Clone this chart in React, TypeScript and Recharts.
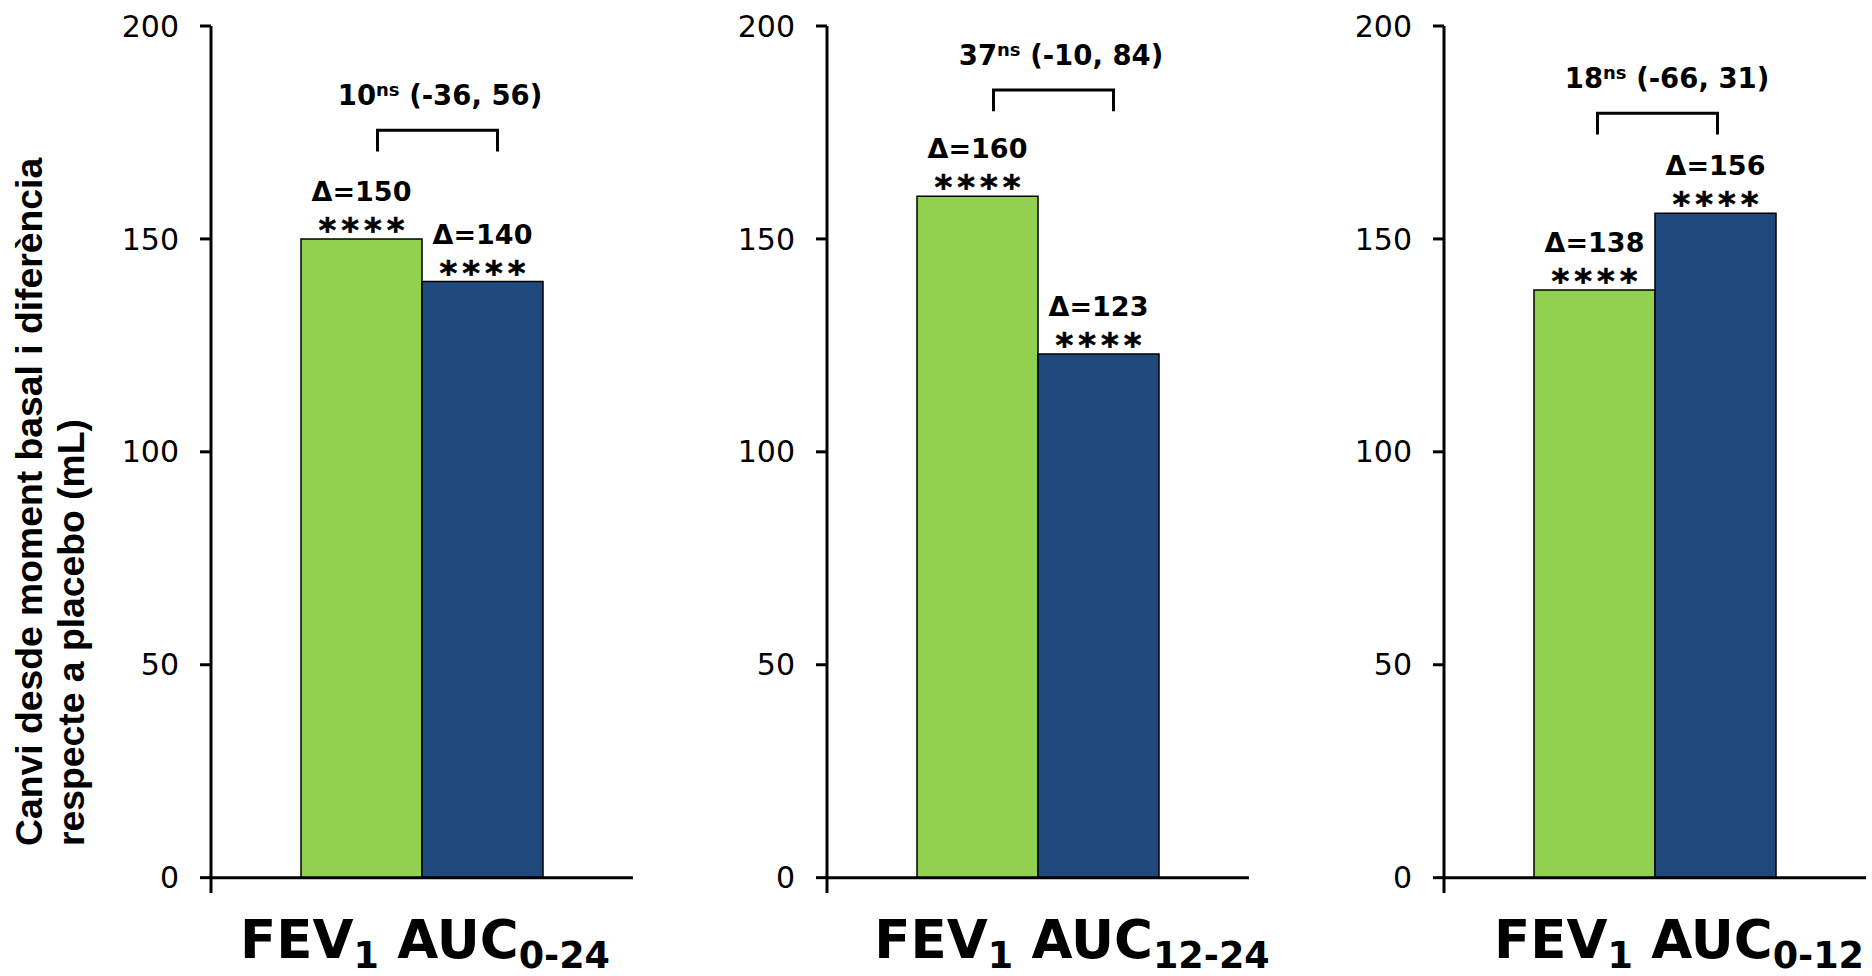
import React from 'react';
import { BarChart, Bar, XAxis, YAxis, ReferenceLine } from 'recharts';

// ---- data ----
const panelMain = ['FEV', 'FEV', 'FEV'];
const panelSub1 = ['1', '1', '1'];
const panelMid = [' AUC', ' AUC', ' AUC'];
const panelSubs = ['0-24', '12-24', '0-12'];
const greenValues = [150, 160, 138];
const blueValues = [140, 123, 156];
const diffValues = [10, 37, 18];
const ciLower = [-36, -10, -66];
const ciUpper = [56, 84, 31];
const bracketLevels = [175.5, 185, 179.5];
const starLabel = '****';
const diffMark = 'ns';
const yTicks = [0, 50, 100, 150, 200];
const yTitleLines = ['Canvi desde moment basal i diferència', 'respecte a placebo (mL)'];

// ---- layout ----
const chartLefts = [0, 616, 1232.5];
const bracketShift = [16, 16, 3];
const diffTextShift = [2.5, 7.5, 9.5];
const xLabelShift = [3, 34, 24];
const AXIS_W = 211;
const PLOT_W = 422;
const RIGHT_PAD = 90;
const CHART_W = AXIS_W + PLOT_W + RIGHT_PAD;
const CHART_H = 976;
const GREEN = '#92D050';
const BLUE = '#1F497D';
const SANS = '"DejaVu Sans", Verdana, sans-serif';
const ARIAL = '"Liberation Sans", Arial, sans-serif';

const num = (v: any) => Number(v);

function makeBarLabel(panel: number, isGreen: boolean) {
  return (props: any) => {
    const x = num(props.x), y = num(props.y), w = num(props.width), h = num(props.height);
    const value = num(props.value);
    const cx = x + w / 2;
    const ppu = h / value;
    const bottom = y + h;
    const out: any[] = [
      <text key="d" x={cx} y={y - 38} textAnchor="middle" fontFamily={SANS} fontWeight="bold" fontSize={27} fill="#000">
        {'Δ=' + value}
      </text>,
      <text key="s" x={cx + 2.5} y={y + 3} textAnchor="middle" fontFamily={SANS} fontWeight="bold" fontSize={34} letterSpacing={5} fill="#000" stroke="#000" strokeWidth={0.6}>
        {starLabel}
      </text>,
    ];
    if (isGreen) {
      const by = bottom - bracketLevels[panel] * ppu;
      const legY = bottom - (bracketLevels[panel] - 5) * ppu;
      const left = cx + bracketShift[panel];
      const right = left + w - 1;
      out.push(
        <path key="b" d={`M${left},${legY} L${left},${by} L${right},${by} L${right},${legY}`} fill="none" stroke="#000" strokeWidth={3} />
      );
      out.push(
        <text key="t" x={(left + right) / 2 + diffTextShift[panel]} y={by - 25} textAnchor="middle" fontFamily={SANS} fontWeight="bold" fontSize={27.5} fill="#000">
          <tspan>{String(diffValues[panel])}</tspan>
          <tspan fontSize={18} dy={-9}>{diffMark}</tspan>
          <tspan dy={9}>{` (${ciLower[panel]}, ${ciUpper[panel]})`}</tspan>
        </text>
      );
    }
    return <g>{out}</g>;
  };
}

function makeXTick(panel: number) {
  return (props: any) => {
    const x = num(props.x), y = num(props.y);
    return (
      <text x={x + xLabelShift[panel]} y={y + 65} textAnchor="middle" fontFamily={SANS} fontWeight="bold" fontSize={53} fill="#000">
        <tspan>{panelMain[panel]}</tspan>
        <tspan fontSize={36.5} dy={10}>{panelSub1[panel]}</tspan>
        <tspan dy={-10}>{panelMid[panel]}</tspan>
        <tspan fontSize={36.5} dy={10}>{panelSubs[panel]}</tspan>
      </text>
    );
  };
}

const YTitle = () => (
  <g>
    <text transform="rotate(-90 42 846)" x={42} y={846} textAnchor="start" fontFamily={ARIAL} fontWeight="bold" fontSize={37.3} fill="#000">
      {yTitleLines[0]}
    </text>
    <text transform="rotate(-90 84 846)" x={84} y={846} textAnchor="start" fontFamily={ARIAL} fontWeight="bold" fontSize={37.3} fill="#000">
      {yTitleLines[1]}
    </text>
  </g>
);

function Panel({ i }: { i: number }) {
  const data = [{ name: panelMain[i] + panelSub1[i] + panelMid[i] + panelSubs[i], green: greenValues[i], blue: blueValues[i] }];
  return (
    <div style={{ position: 'absolute', left: chartLefts[i], top: 0 }}>
      <BarChart
        width={CHART_W}
        height={CHART_H}
        data={data}
        margin={{ top: 26, right: RIGHT_PAD, bottom: 0, left: 0 }}
        barCategoryGap={90}
        barGap={0}
      >
        <XAxis
          dataKey="name"
          height={83}
          axisLine={false}
          tickLine={false}
          tickSize={0}
          tickMargin={0}
          tick={makeXTick(i)}
          interval={0}
        />
        <YAxis
          width={AXIS_W}
          domain={[-3.6, 200]}
          ticks={yTicks}
          allowDataOverflow
          axisLine={{ stroke: '#000', strokeWidth: 3 }}
          tickLine={{ stroke: '#000', strokeWidth: 3 }}
          tickSize={11}
          tickMargin={21}
          tick={{ fontFamily: SANS, fontSize: 30, fill: '#000' }}
          label={i === 0 ? { content: () => <YTitle /> } : undefined}
        />
        <Bar dataKey="green" fill={GREEN} stroke="#000" strokeWidth={1.5} isAnimationActive={false} label={makeBarLabel(i, true)} />
        <Bar dataKey="blue" fill={BLUE} stroke="#000" strokeWidth={1.5} isAnimationActive={false} label={makeBarLabel(i, false)} />
        <ReferenceLine y={0} stroke="#000" strokeWidth={3} />
      </BarChart>
    </div>
  );
}

export default function App() {
  return (
    <div style={{ position: 'absolute', left: 0, top: 0, width: 1872, height: 976, background: '#fff', overflow: 'hidden' }}>
      {[0, 1, 2].map((i) => (
        <Panel key={i} i={i} />
      ))}
    </div>
  );
}
